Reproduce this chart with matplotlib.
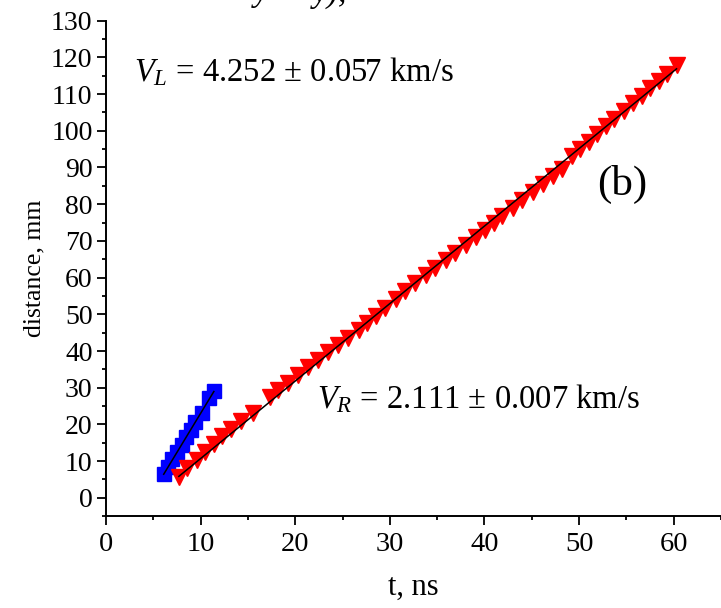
import numpy as np
import matplotlib

matplotlib.use("Agg")
import matplotlib.pyplot as plt  # noqa: E402
from matplotlib.ticker import MultipleLocator  # noqa: E402

# left-going front (blue squares), fitted speed V_L
t_left = [6.1, 6.55, 7.0, 7.5, 8.05, 8.5, 9.0, 9.45, 10.1, 10.9, 11.4]
d_left = [6.4, 8.4, 10.5, 12.5, 14.5, 16.6, 18.6, 20.7, 23.0, 27.1, 29.2]
V_L, dV_L = 4.252, 0.057

# right-going front (red triangles), fitted speed V_R
t_right = [7.7, 8.6, 9.6, 10.5, 11.4, 12.3, 13.2, 14.3, 15.5,
           17.3, 18.2, 19.2, 20.3, 21.4, 22.4, 23.5, 24.5, 25.6, 26.7,
           27.6, 28.5, 29.5, 30.6, 31.6, 32.7, 33.8, 34.8, 35.9, 36.9,
           38.0, 39.1, 40.1, 41.0, 41.9, 43.0, 44.0, 45.1, 46.2, 47.2,
           48.2, 49.2, 50.1, 51.0, 51.9, 52.8, 53.7, 54.7, 55.7, 56.6,
           57.5, 58.4, 59.3, 60.3]
d_right = [5.7, 8.2, 10.3, 12.4, 14.6, 16.9, 18.8, 21.0, 23.2,
           27.4, 29.3, 31.3, 33.5, 35.6, 37.5, 39.6, 41.6, 43.6, 45.7,
           47.6, 49.6, 51.8, 54.3, 56.3, 58.4, 60.6, 62.5, 64.7, 66.8,
           68.9, 71.0, 73.1, 75.0, 76.9, 79.0, 81.2, 83.3, 85.5, 87.6,
           89.7, 93.0, 95.0, 97.0, 99.2, 101.2, 103.3, 105.4, 107.5, 109.6,
           111.6, 113.6, 115.6, 117.8]
V_R, dV_R = 2.111, 0.007

plt.rcParams.update({
    "font.family": ["Liberation Serif", "DejaVu Serif"],
    "mathtext.fontset": "custom",
    "mathtext.rm": "Liberation Serif",
    "mathtext.it": "Liberation Serif:italic",
    "axes.linewidth": 1.4,
})

fig = plt.figure(figsize=(7.21, 6.08), dpi=100)
ax = fig.add_axes([0.147, 0.151, 0.853, 0.815])


def fit_line(t, d, v):
    t = np.asarray(t)
    d = np.asarray(d)
    b = d.mean() - v * t.mean()
    tt = np.array([t.min(), t.max()])
    return tt, v * tt + b


ax.plot(t_left, d_left, ls="none", marker="s", ms=9.5, color="#0000FF",
        mec="#0000FF", zorder=2)
ax.plot(t_right, d_right, ls="none", marker="v", ms=11, color="#FF0000",
        mec="#FF0000", zorder=2)
for t, d, v in [(t_left, d_left, V_L), (t_right, d_right, V_R)]:
    ax.plot(*fit_line(t, d, v), color="black", lw=1.1, zorder=3)

ax.set_xlim(0, 65)
ax.set_ylim(-5, 130)
ax.xaxis.set_major_locator(MultipleLocator(10))
ax.xaxis.set_minor_locator(MultipleLocator(5))
ax.yaxis.set_major_locator(MultipleLocator(10))
ax.yaxis.set_minor_locator(MultipleLocator(5))
for s in ("top", "right"):
    ax.spines[s].set_visible(False)
ax.tick_params(which="major", direction="out", length=6.7, width=1.3)
ax.tick_params(which="minor", direction="out", length=3.2, width=1.3)
ax.tick_params(axis="x", labelsize=20.5, pad=5)
ax.tick_params(axis="y", labelsize=20, pad=3)

ax.set_xlabel("t, ns", fontsize=22, labelpad=11)
ax.set_ylabel("distance, mm", fontsize=18.5, labelpad=4)

ax.text(3.0, 116, rf"$V_L$ = {V_L:.3f} ± {dV_L:.3f} km/s",
        fontsize=23.5, va="center")
ax.text(22.3, 27, rf"$V_R$ = {V_R:.3f} ± {dV_R:.3f} km/s",
        fontsize=23.5, va="center")
ax.text(54.6, 85.5, "(b)", fontsize=31, ha="center", va="center")

# descenders of the caption line above the plot, cut by the page edge
fig.text(0.352, 1 - 1.5 / 608, "y", fontsize=24, style="italic",
         va="baseline")
fig.text(0.434, 1 - 1.5 / 608, "y),", fontsize=24, style="italic",
         va="baseline")

fig.savefig("out.png", dpi=100)
